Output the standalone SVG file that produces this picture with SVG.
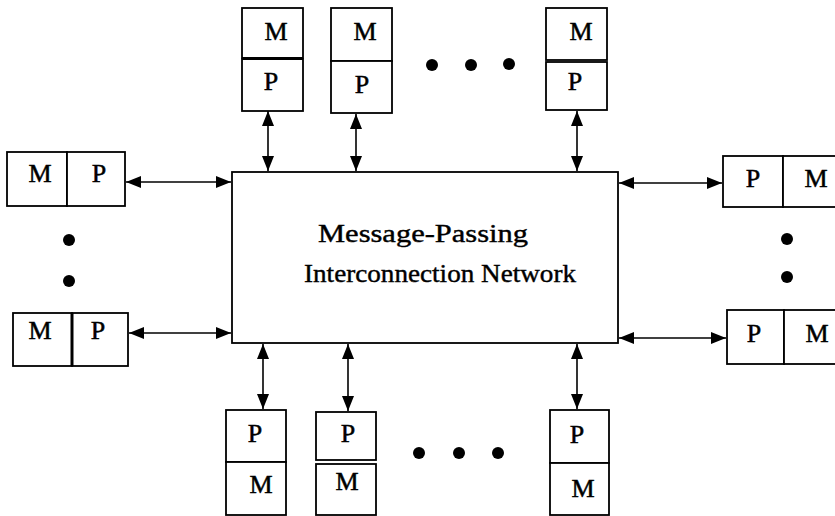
<svg xmlns="http://www.w3.org/2000/svg" width="835" height="516" viewBox="0 0 835 516">
<defs>
<style>
.box{fill:#fff;stroke:#000;stroke-width:1.8}
.lbl{font-family:"Liberation Serif","DejaVu Serif",serif;font-size:26px;text-anchor:middle;fill:#000;stroke:#000;stroke-width:0.5}
.title{font-family:"Liberation Serif","DejaVu Serif",serif;font-size:25px;text-anchor:middle;fill:#000;stroke:#000;stroke-width:0.4}
.conn{stroke:#000;stroke-width:1.6;fill:none;marker-start:url(#ah);marker-end:url(#ah)}
.dot{fill:#000}
</style>
<marker id="ah" viewBox="0 0 10 10" refX="10" refY="5" markerWidth="15" markerHeight="12" markerUnits="userSpaceOnUse" orient="auto-start-reverse" preserveAspectRatio="none">
<path d="M0,0 L10,5 L0,10 z" fill="#000"/>
</marker>
</defs>
<rect width="835" height="516" fill="#fff"/>

<g id="network">
<rect class="box" x="232" y="172" width="386" height="171"/>
<text class="title" x="423" y="242" textLength="210" lengthAdjust="spacingAndGlyphs">Message-Passing</text>
<text class="title" x="440" y="282" textLength="272" lengthAdjust="spacingAndGlyphs">Interconnection Network</text>
</g>

<g id="connectors">
<line class="conn" x1="268" y1="111" x2="268" y2="171"/>
<line class="conn" x1="356" y1="114" x2="356" y2="171"/>
<line class="conn" x1="577" y1="111" x2="577" y2="171"/>
<line class="conn" x1="126" y1="182" x2="231" y2="182"/>
<line class="conn" x1="129" y1="333" x2="231" y2="333"/>
<line class="conn" x1="619" y1="183" x2="722" y2="183"/>
<line class="conn" x1="619" y1="338" x2="726" y2="338"/>
<line class="conn" x1="263" y1="344" x2="263" y2="409"/>
<line class="conn" x1="348" y1="344" x2="348" y2="411"/>
<line class="conn" x1="577" y1="344" x2="577" y2="409"/>
</g>

<g id="top1">
<rect class="box" x="242" y="8" width="61" height="50"/>
<rect class="box" x="242" y="59" width="61" height="52"/>
<line x1="242" y1="58.5" x2="303" y2="58.5" stroke="#000" stroke-width="3"/>
<text class="lbl" x="276" y="40">M</text>
<text class="lbl" x="271" y="90">P</text>
</g>
<g id="top2">
<rect class="box" x="331" y="8" width="61" height="53"/>
<rect class="box" x="331" y="61" width="61" height="52"/>
<text class="lbl" x="365" y="40">M</text>
<text class="lbl" x="362" y="93">P</text>
</g>
<g id="top3">
<rect class="box" x="546" y="8" width="61" height="52"/>
<rect class="box" x="546" y="62" width="61" height="48"/>
<text class="lbl" x="581" y="40">M</text>
<text class="lbl" x="575" y="90">P</text>
</g>
<g id="top-dots">
<circle class="dot" cx="432" cy="65" r="6"/>
<circle class="dot" cx="471" cy="65" r="6"/>
<circle class="dot" cx="509" cy="64" r="6"/>
</g>

<g id="left1">
<rect class="box" x="7" y="152" width="60" height="54"/>
<rect class="box" x="67" y="152" width="58" height="54"/>
<text class="lbl" x="40" y="182">M</text>
<text class="lbl" x="99" y="182">P</text>
</g>
<g id="left-dots">
<circle class="dot" cx="69" cy="240" r="6"/>
<circle class="dot" cx="69" cy="281" r="6"/>
</g>
<g id="left2">
<rect class="box" x="13" y="313" width="59" height="53"/>
<rect class="box" x="72" y="313" width="56" height="53"/>
<line x1="72" y1="313" x2="72" y2="366" stroke="#000" stroke-width="3"/>
<text class="lbl" x="40" y="339">M</text>
<text class="lbl" x="98" y="339">P</text>
</g>

<g id="right1">
<rect class="box" x="723" y="156" width="60" height="51"/>
<rect class="box" x="783" y="156" width="60" height="51"/>
<text class="lbl" x="753" y="187">P</text>
<text class="lbl" x="816" y="187">M</text>
</g>
<g id="right-dots">
<circle class="dot" cx="787" cy="239" r="6"/>
<circle class="dot" cx="787" cy="277" r="6"/>
</g>
<g id="right2">
<rect class="box" x="727" y="310" width="57" height="54"/>
<rect class="box" x="784" y="310" width="60" height="54"/>
<text class="lbl" x="754" y="342">P</text>
<text class="lbl" x="817" y="342">M</text>
</g>

<g id="bottom1">
<rect class="box" x="226" y="410" width="60" height="52"/>
<rect class="box" x="226" y="462" width="60" height="53"/>
<text class="lbl" x="255" y="442">P</text>
<text class="lbl" x="261" y="493">M</text>
</g>
<g id="bottom2">
<rect class="box" x="316" y="412" width="60" height="48"/>
<rect class="box" x="316" y="464" width="60" height="51"/>
<text class="lbl" x="348" y="442">P</text>
<text class="lbl" x="347" y="490">M</text>
</g>
<g id="bottom3">
<rect class="box" x="550" y="410" width="59" height="53"/>
<rect class="box" x="550" y="463" width="59" height="52"/>
<text class="lbl" x="577" y="443">P</text>
<text class="lbl" x="583" y="497">M</text>
</g>
<g id="bottom-dots">
<circle class="dot" cx="419" cy="453" r="6"/>
<circle class="dot" cx="459" cy="453" r="6"/>
<circle class="dot" cx="498" cy="453" r="6"/>
</g>
</svg>
